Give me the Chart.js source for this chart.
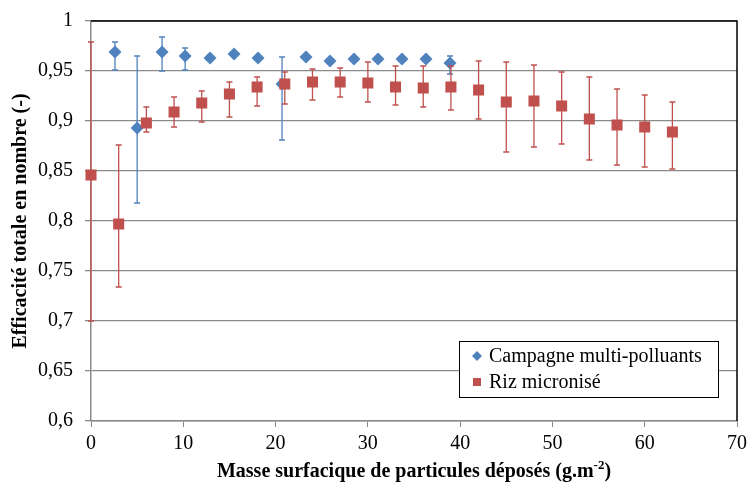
<!DOCTYPE html>
<html>
<head>
<meta charset="utf-8">
<script src="https://cdn.jsdelivr.net/npm/chart.js@4/dist/chart.umd.min.js"></script>
<style>
html, body { margin: 0; padding: 0; background: #fff; }
</style>
</head>
<body>
<canvas id="chart" width="748" height="483"></canvas>
<script>
// Campagne multi-polluants (diamants bleus)
const campX = [2.6, 5.0, 7.7, 10.2, 12.9, 15.5, 18.1, 20.7, 23.3, 25.9, 28.5, 31.1, 33.7, 36.3, 38.9];
const campY = [0.969, 0.893, 0.969, 0.965, 0.963, 0.967, 0.963, 0.937, 0.964, 0.960, 0.962, 0.962, 0.962, 0.962, 0.958];
const campLow = [0.951, 0.818, 0.950, 0.951, 0.960, 0.965, 0.961, 0.881, 0.962, 0.958, 0.960, 0.960, 0.960, 0.960, 0.947];
const campHigh = [0.979, 0.965, 0.984, 0.973, 0.966, 0.969, 0.965, 0.964, 0.966, 0.962, 0.964, 0.964, 0.964, 0.964, 0.965];

// Riz micronisé (carrés rouges)
const rizX = [0, 3, 6, 9, 12, 15, 18, 21, 24, 27, 30, 33, 36, 39, 42, 45, 48, 51, 54, 57, 60, 63];
const rizY = [0.846, 0.797, 0.898, 0.909, 0.918, 0.927, 0.934, 0.937, 0.939, 0.939, 0.938, 0.934, 0.933, 0.934, 0.931, 0.919, 0.920, 0.915, 0.902, 0.896, 0.894, 0.889];
const rizLow = [0.700, 0.734, 0.889, 0.894, 0.899, 0.904, 0.915, 0.917, 0.921, 0.924, 0.919, 0.916, 0.914, 0.911, 0.902, 0.869, 0.874, 0.877, 0.861, 0.856, 0.854, 0.852];
const rizHigh = [0.979, 0.876, 0.914, 0.924, 0.930, 0.939, 0.944, 0.949, 0.952, 0.953, 0.959, 0.955, 0.955, 0.955, 0.960, 0.959, 0.956, 0.949, 0.944, 0.932, 0.926, 0.919];

const seriesNames = ['Campagne multi-polluants', 'Riz micronisé'];
const yTickValues = [0.6, 0.65, 0.7, 0.75, 0.8, 0.85, 0.9, 0.95, 1];
const yTickLabels = ['0,6', '0,65', '0,7', '0,75', '0,8', '0,85', '0,9', '0,95', '1'];
const xTickValues = [0, 10, 20, 30, 40, 50, 60, 70];

const xTitle = 'Masse surfacique de particules déposés (g.m';
const xTitleSup = '-2';
const yTitle = 'Efficacité totale en nombre (-)';

const BLUE = '#4F81BD';
const RED = '#C0504D';
const GRID = '#8a8a8a';
const FONT = '"Liberation Serif", "Times New Roman", serif';

function toPoints(xs, ys) {
    return xs.map((x, i) => ({x: x, y: ys[i]}));
}

// barres d'erreur, dessinées avant les marqueurs de chaque série
const errorBars = {
    id: 'errorBars',
    beforeDatasetDraw(chart, args) {
        const ds = chart.data.datasets[args.index];
        const meta = args.meta;
        const y = chart.scales.y;
        const ctx = chart.ctx;
        ctx.save();
        ctx.strokeStyle = ds.borderColor;
        ctx.lineWidth = 1.3;
        meta.data.forEach((pt, i) => {
            const top = y.getPixelForValue(ds.errHigh[i]);
            const bot = y.getPixelForValue(ds.errLow[i]);
            ctx.beginPath();
            ctx.moveTo(pt.x, top);
            ctx.lineTo(pt.x, bot);
            ctx.moveTo(pt.x - 3, top);
            ctx.lineTo(pt.x + 3, top);
            ctx.moveTo(pt.x - 3, bot);
            ctx.lineTo(pt.x + 3, bot);
            ctx.stroke();
        });
        ctx.restore();
    }
};

const frame = {
    id: 'frame',
    beforeDatasetsDraw(chart) {
        const a = chart.chartArea;
        const ctx = chart.ctx;
        ctx.save();
        ctx.strokeStyle = '#000';
        ctx.lineWidth = 1.5;
        ctx.beginPath();
        ctx.moveTo(a.left, a.top);
        ctx.lineTo(a.right, a.top);
        ctx.lineTo(a.right, a.bottom);
        ctx.stroke();
        ctx.restore();
    },
    afterDraw(chart) {
        const a = chart.chartArea;
        const ctx = chart.ctx;
        ctx.save();
        ctx.fillStyle = '#000';

        // titre axe x avec exposant
        ctx.font = 'bold 20px ' + FONT;
        const w1 = ctx.measureText(xTitle).width;
        ctx.font = 'bold 13px ' + FONT;
        const w2 = ctx.measureText(xTitleSup).width;
        ctx.font = 'bold 20px ' + FONT;
        const w3 = ctx.measureText(')').width;
        let x0 = (a.left + a.right) / 2 - (w1 + w2 + w3) / 2;
        const by = 477;
        ctx.textBaseline = 'alphabetic';
        ctx.textAlign = 'left';
        ctx.fillText(xTitle, x0, by);
        ctx.font = 'bold 13px ' + FONT;
        ctx.fillText(xTitleSup, x0 + w1, by - 8);
        ctx.font = 'bold 20px ' + FONT;
        ctx.fillText(')', x0 + w1 + w2, by);

        // titre axe y
        ctx.translate(21, (a.top + a.bottom) / 2);
        ctx.rotate(-Math.PI / 2);
        ctx.textAlign = 'center';
        ctx.textBaseline = 'middle';
        ctx.fillText(yTitle, 0, 0);
        ctx.restore();

        // légende
        ctx.save();
        const lx = 459, ly = 341, lw = 259, lh = 56;
        ctx.fillStyle = '#fff';
        ctx.fillRect(lx, ly, lw, lh);
        ctx.strokeStyle = '#000';
        ctx.lineWidth = 1;
        ctx.strokeRect(lx + 0.5, ly + 0.5, lw, lh);
        ctx.font = '20px ' + FONT;
        ctx.textBaseline = 'middle';
        ctx.textAlign = 'left';
        const rows = [ly + 15, ly + 41];
        chart.data.datasets.forEach((ds, i) => {
            const cy = rows[i];
            ctx.fillStyle = ds.backgroundColor;
            ctx.beginPath();
            if (ds.pointStyle === 'rectRot') {
                ctx.moveTo(477, cy - 5);
                ctx.lineTo(482, cy);
                ctx.lineTo(477, cy + 5);
                ctx.lineTo(472, cy);
                ctx.closePath();
            } else {
                ctx.rect(473, cy - 4, 8, 8);
            }
            ctx.fill();
            ctx.fillStyle = '#000';
            ctx.fillText(seriesNames[i], 489, cy + 1);
        });
        ctx.restore();
    }
};

new Chart(document.getElementById('chart'), {
    type: 'scatter',
    data: {
        datasets: [{
            label: seriesNames[0],
            data: toPoints(campX, campY),
            errLow: campLow,
            errHigh: campHigh,
            pointStyle: 'rectRot',
            pointRadius: 6.5,
            backgroundColor: BLUE,
            borderColor: BLUE,
            borderWidth: 0,
            order: 2,
            clip: false
        }, {
            label: seriesNames[1],
            data: toPoints(rizX, rizY),
            errLow: rizLow,
            errHigh: rizHigh,
            pointStyle: 'rect',
            pointRadius: 7.8,
            backgroundColor: RED,
            borderColor: RED,
            borderWidth: 0,
            order: 1,
            clip: false
        }]
    },
    options: {
        responsive: false,
        devicePixelRatio: 1,
        animation: false,
        layout: { padding: { left: 0, top: 21, right: 11, bottom: 0 } },
        plugins: {
            legend: { display: false },
            tooltip: { enabled: false }
        },
        scales: {
            x: {
                type: 'linear',
                min: 0,
                max: 70,
                afterBuildTicks: s => { s.ticks = xTickValues.map(v => ({value: v})); },
                afterFit: s => { s.height = 62; s.paddingLeft = 0; s.paddingRight = 0; },
                ticks: { color: '#000', font: { family: FONT, size: 20 }, padding: 5, maxRotation: 0 },
                grid: { drawOnChartArea: false, color: GRID, tickLength: 6 },
                border: { color: GRID, width: 1.5 }
            },
            y: {
                min: 0.6,
                max: 1,
                afterBuildTicks: s => { s.ticks = yTickValues.map(v => ({value: v})); },
                afterFit: s => { s.width = 91; s.paddingTop = 0; s.paddingBottom = 0; },
                ticks: {
                    color: '#000',
                    font: { family: FONT, size: 20 },
                    padding: 12,
                    callback: v => yTickLabels[yTickValues.indexOf(v)]
                },
                grid: { color: GRID, lineWidth: 1.3, tickLength: 6 },
                border: { color: GRID, width: 1.5 }
            }
        }
    },
    plugins: [errorBars, frame]
});
</script>
</body>
</html>
